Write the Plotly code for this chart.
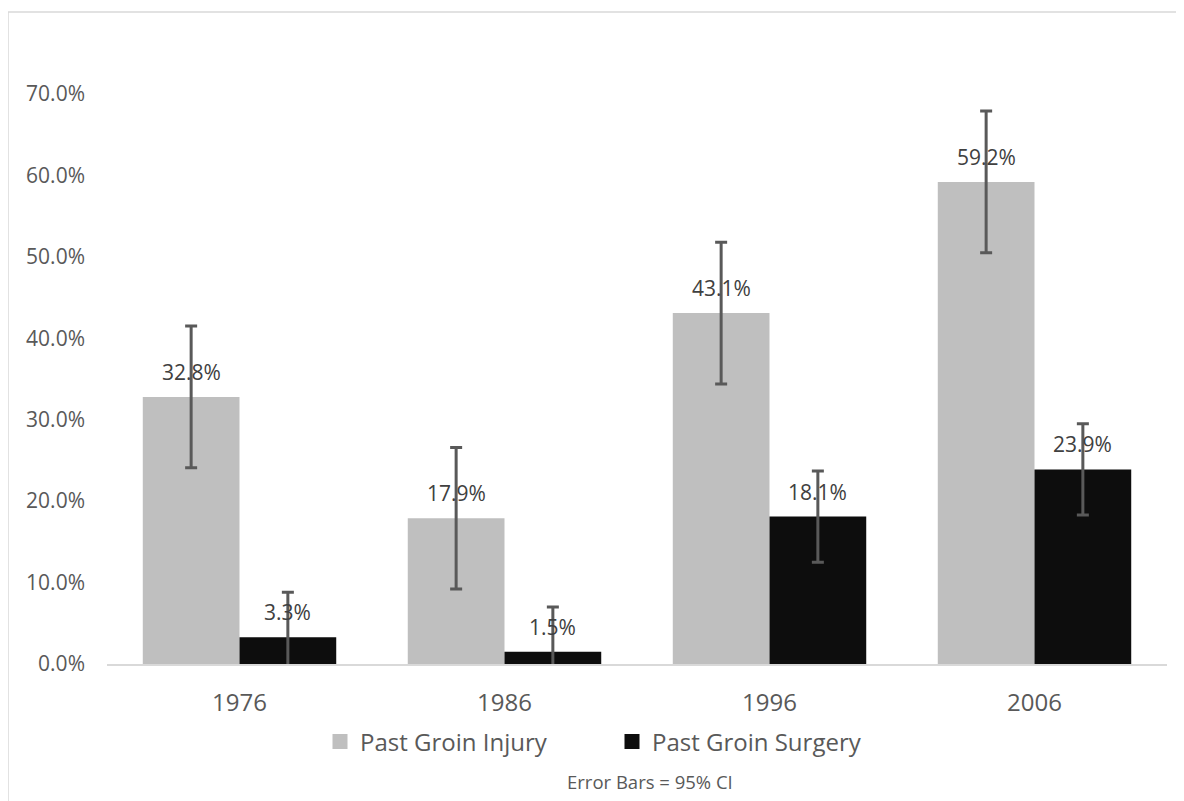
import plotly.graph_objects as go

categories = ["1976", "1986", "1996", "2006"]
injury = [0.328, 0.179, 0.431, 0.592]
surgery = [0.033, 0.015, 0.181, 0.239]
injury_ci = [0.087, 0.087, 0.087, 0.087]
surgery_ci = [0.055, 0.055, 0.056, 0.056]
injury_labels = ["32.8%", "17.9%", "43.1%", "59.2%"]
surgery_labels = ["3.3%", "1.5%", "18.1%", "23.9%"]
y_ticks = [0, 0.1, 0.2, 0.3, 0.4, 0.5, 0.6, 0.7]
y_tick_text = ["0.0%", "10.0%", "20.0%", "30.0%", "40.0%", "50.0%", "60.0%", "70.0%"]

FONT = "Open Sans"
OFF = 8  # page body margin
W, H = 1176, 793
ML, MR, MT, MB = 99, 17, 86, 137
pw = W - ML - MR
ph = H - MT - MB


def xp(sx):
    return (sx - OFF - ML) / pw


def yp(sy):
    return ((H - MB) - (sy - OFF)) / ph


GRAY = "#bfbfbf"
BLACK = "#0d0d0d"

fig = go.Figure()
fig.add_trace(go.Bar(
    name="Past Groin Injury", x=categories, y=injury, showlegend=False,
    marker=dict(color=GRAY, line=dict(width=0)),
    error_y=dict(type="data", array=injury_ci, color="#595959", thickness=3, width=6),
))
fig.add_trace(go.Bar(
    name="Past Groin Surgery", x=categories, y=surgery, showlegend=False,
    marker=dict(color=BLACK, line=dict(width=0)),
    error_y=dict(type="data", array=surgery_ci, color="#595959", thickness=3, width=6),
))
# legend entries with square swatches
fig.add_trace(go.Scatter(name="Past Groin Injury", x=[None], y=[None], mode="markers",
                         marker=dict(symbol="square", size=15, color=GRAY)))
fig.add_trace(go.Scatter(name="Past Groin Surgery", x=[None], y=[None], mode="markers",
                         marker=dict(symbol="square", size=15, color=BLACK)))

annotations = []
for i, (v, t) in enumerate(zip(injury, injury_labels)):
    annotations.append(dict(x=i, y=v, text=t, xshift=-48, yshift=25, showarrow=False,
                            font=dict(family=FONT, size=21, color="#404040")))
for i, (v, t) in enumerate(zip(surgery, surgery_labels)):
    annotations.append(dict(x=i, y=v, text=t, xshift=48, yshift=25, showarrow=False,
                            font=dict(family=FONT, size=21, color="#404040")))
annotations.append(dict(xref="paper", yref="paper", x=xp(650), y=yp(781),
                        text="Error Bars = 95% CI", showarrow=False,
                        xanchor="center", yanchor="middle",
                        font=dict(family=FONT, size=18.5, color="#595959")))

fig.update_layout(
    width=W, height=H,
    margin=dict(l=ML, r=MR, t=MT, b=MB),
    paper_bgcolor="white", plot_bgcolor="white",
    barmode="group", bargap=0.27, bargroupgap=0,
    font=dict(family=FONT, color="#595959"),
    showlegend=True,
    legend=dict(orientation="h", x=xp(320), xanchor="left",
                y=yp(742), yanchor="middle",
                font=dict(family=FONT, size=24, color="#595959"),
                entrywidth=247, entrywidthmode="pixels",
                itemwidth=30, traceorder="normal"),
    annotations=annotations,
    shapes=[dict(type="rect", xref="paper", yref="paper",
                 x0=xp(8), x1=xp(1300), y0=yp(1000), y1=yp(12),
                 line=dict(color="#d9d9d9", width=1.5), fillcolor="rgba(0,0,0,0)",
                 layer="below")],
)
fig.update_xaxes(type="category", range=[-0.5, len(categories) - 0.5],
                 showline=True, linecolor="#d9d9d9", linewidth=2,
                 showgrid=False, ticks="", ticklabelstandoff=16,
                 tickfont=dict(family=FONT, size=24, color="#595959"))
fig.update_yaxes(range=[0, 0.7], showline=False, showgrid=False, zeroline=False,
                 tickvals=y_ticks, ticktext=y_tick_text, ticks="",
                 ticklabelstandoff=21,
                 tickfont=dict(family=FONT, size=21, color="#595959"))

fig.write_html("out.html")
